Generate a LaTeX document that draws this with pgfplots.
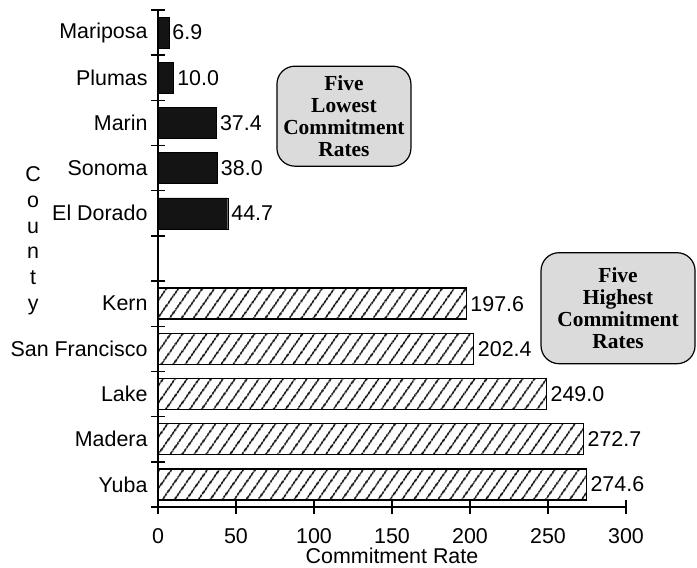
\documentclass[border=0pt]{standalone}
\usepackage{fontspec}
\setmainfont{Liberation Sans}
\newfontfamily\boxfont{Liberation Serif}
\usepackage{pgfplots}
\usepackage{pgfplotstable}
\pgfplotsset{compat=1.18}
\usetikzlibrary{patterns.meta}

\pgfplotstableread{
y val
1 274.6
2 272.7
3 249.0
4 202.4
5 197.6
}\high
\pgfplotstableread{
y val
7 44.7
8 38.0
9 37.4
10 10.0
11 6.9
}\low

\begin{document}
\begin{tikzpicture}
\begin{axis}[
  scale only axis, width=468bp, height=497bp,
  xbar, bar width=31bp, bar shift=0pt,
  xmin=0, xmax=300, ymin=0.5, ymax=11.5,
  clip=false,
  axis x line=bottom, axis y line=left,
  axis line style={-, line width=1.4bp},
  xtick={0,50,...,300},
  ytick={1,...,11},
  yticklabels={Yuba,Madera,Lake,San Francisco,Kern,,El Dorado,Sonoma,Marin,Plumas,Mariposa},
  minor ytick={0.5,1.5,...,11.5},
  tick align=center,
  major tick length=14bp, minor tick length=14bp,
  tick style={line width=1.4bp, black},
  every major y tick/.style={draw=none},
  ticklabel style={font=\fontsize{21.5}{24}\selectfont},
  /pgf/number format/assume math mode=true,
  xticklabel shift=14bp,
  xticklabel style={inner sep=0pt, text depth=0pt},
  xlabel={Commitment Rate},
  xlabel style={font=\fontsize{21.5}{24}\selectfont, at={(axis description cs:0.5,0)}, anchor=base, yshift=-56bp, inner sep=0pt},
  nodes near coords,
  nodes near coords style={anchor=west, font=\fontsize{21.5}{24}\selectfont, inner sep=3.5bp,
    /pgf/number format/.cd, fixed, zerofill, precision=1, assume math mode=true},
]
\addplot[fill=black!92, draw=black] table[x=val,y=y]{\low};
\addplot[draw=black, line width=1.4bp, pattern={Lines[angle=55,distance=9.5bp,line width=1.7bp]}] table[x=val,y=y]{\high};

\node[draw, rounded corners=18bp, line width=1.2bp, fill=gray!28, minimum width=134bp, minimum height=100bp, align=center, inner sep=0pt,
  font=\boxfont\bfseries\fontsize{21.5}{22}\selectfont] at (axis cs:119.2,9.15) {Five\\Lowest\\Commitment\\Rates};
\node[draw, rounded corners=18bp, line width=1.2bp, fill=gray!28, minimum width=154bp, minimum height=111bp, align=center, inner sep=0pt,
  font=\boxfont\bfseries\fontsize{21.5}{22}\selectfont] at (axis cs:294.9,4.9) {Five\\Highest\\Commitment\\Rates};
\node[align=center, inner sep=0pt, font=\fontsize{21.5}{25.8}\selectfont] at (axis cs:-80,6.39) {C\\o\\u\\n\\t\\y};
\end{axis}
\pgfresetboundingbox
\path ([xshift=-158bp,yshift=-61bp]current axis.south west) rectangle ++(697bp,568bp);
\end{tikzpicture}
\end{document}
